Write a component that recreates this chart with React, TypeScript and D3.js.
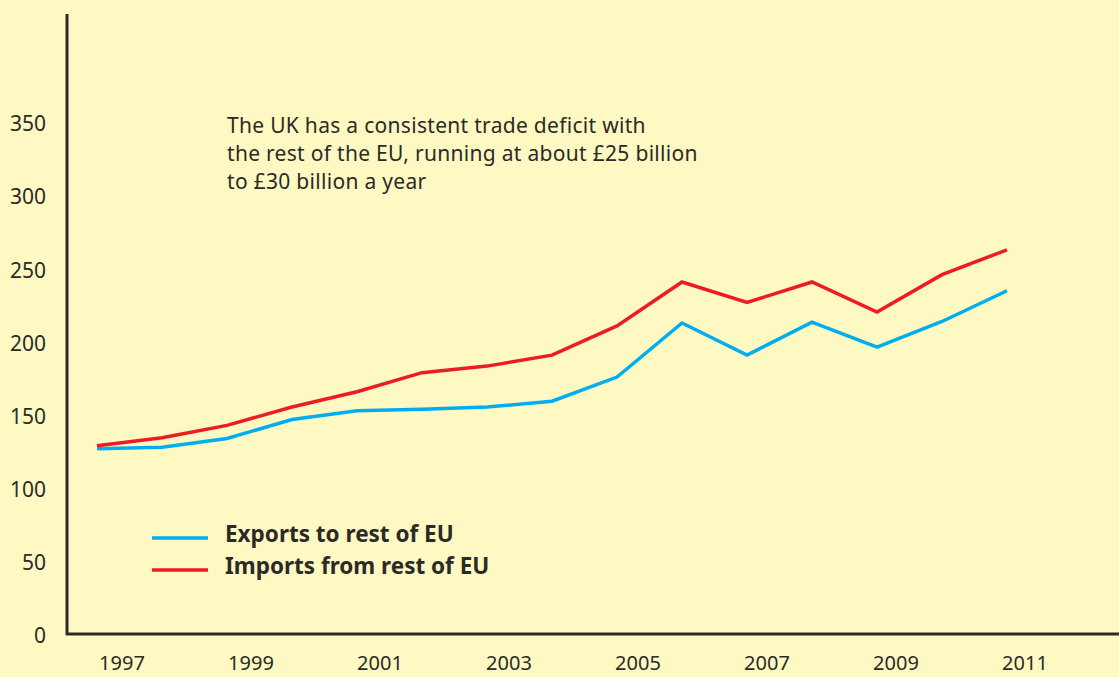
import React from 'react';
import * as d3 from 'd3';

const width = 1119;
const height = 677;

const years = [1997, 1998, 1999, 2000, 2001, 2002, 2003, 2004, 2005, 2006, 2007, 2008, 2009, 2010, 2011];
const exportsEU = [128, 129, 135, 148, 154, 155, 156.5, 160.5, 177, 214, 192, 214.5, 197.5, 215, 236];
const importsEU = [130, 135.5, 144, 156.5, 167, 180, 184.5, 192, 212, 242, 228, 242, 221.5, 247, 264];
const yTicks = [0, 50, 100, 150, 200, 250, 300, 350];
const xTickYears = [1997, 1999, 2001, 2003, 2005, 2007, 2009, 2011];
const noteLines = [
  'The UK has a consistent trade deficit with',
  'the rest of the EU, running at about £25 billion',
  'to £30 billion a year',
];
const legendItems = [
  { name: 'Exports to rest of EU', color: '#00aeef' },
  { name: 'Imports from rest of EU', color: '#ed1c24' },
];

const font = '"Noto Sans", "Open Sans", sans-serif';
const ink = '#2b2a26';

export default function App() {
  const x = d3.scaleLinear().domain([1997, 2011]).range([97, 1007]);
  // the year labels sit a little to the right of the data points
  const xLabel = d3.scaleLinear().domain([1997, 2011]).range([122, 1025]);
  const y = d3.scaleLinear().domain([0, 350]).range([636, 124]);

  const line = d3
    .line<number>()
    .x((d, i) => x(years[i]))
    .y(d => y(d));

  const series = [exportsEU, importsEU];

  return (
    <div style={{ position: 'fixed', left: 0, top: 0 }}>
      <svg width={width} height={height} style={{ display: 'block' }}>
        <rect width={width} height={height} fill="#fef9c3" />

        {/* axes */}
        <line x1={67} x2={67} y1={14} y2={635} stroke={ink} strokeWidth={3} />
        <line x1={66} x2={width} y1={634} y2={634} stroke={ink} strokeWidth={3} />

        {yTicks.map(t => (
          <text
            key={t}
            x={46}
            y={y(t)}
            dy="0.35em"
            textAnchor="end"
            fontFamily={font}
            fontSize={21}
            fill={ink}
          >
            {t}
          </text>
        ))}

        {xTickYears.map(t => (
          <text
            key={t}
            x={xLabel(t)}
            y={670}
            textAnchor="middle"
            fontFamily={font}
            fontSize={20}
            fill={ink}
          >
            {t}
          </text>
        ))}

        {series.map((s, i) => (
          <path key={i} d={line(s) || ''} fill="none" stroke={legendItems[i].color} strokeWidth={3.5} strokeLinejoin="miter" />
        ))}

        {noteLines.map((l, i) => (
          <text key={i} x={227} y={133 + i * 28} fontFamily={font} fontSize={21} letterSpacing={0.3} fill={ink}>
            {l}
          </text>
        ))}

        {legendItems.map((item, i) => (
          <g key={item.name} transform={'translate(0,' + (538 + i * 32) + ')'}>
            <line x1={152} x2={208} y1={0} y2={0} stroke={item.color} strokeWidth={3.5} />
            <text x={225} y={4} fontFamily={font} fontSize={22.5} fontWeight="bold" fill={ink}>
              {item.name}
            </text>
          </g>
        ))}
      </svg>
    </div>
  );
}
